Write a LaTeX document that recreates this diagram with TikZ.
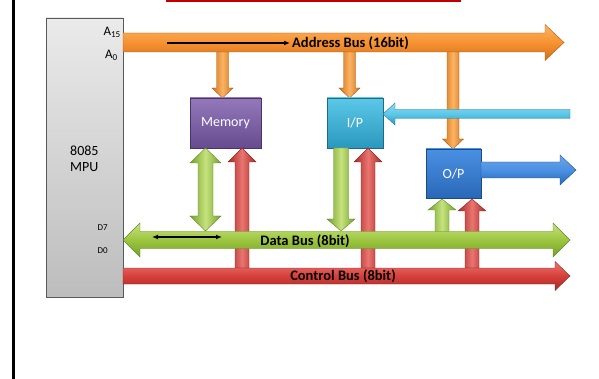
\documentclass[tikz,border=0pt]{standalone}
\usepackage{fontspec}
\setmainfont{Carlito}
\usetikzlibrary{arrows.meta}
\definecolor{orL}{HTML}{FBB463}\definecolor{orM}{HTML}{F79232}\definecolor{orD}{HTML}{D2711A}
\definecolor{grL}{HTML}{C6E27E}\definecolor{grM}{HTML}{9CC53F}\definecolor{grD}{HTML}{73A02A}
\definecolor{rdL}{HTML}{EA7470}\definecolor{rdM}{HTML}{D6403B}\definecolor{rdD}{HTML}{A82A27}
\definecolor{puT}{HTML}{9379BA}\definecolor{puB}{HTML}{674B90}
\definecolor{cyT}{HTML}{5CC8E8}\definecolor{cyB}{HTML}{2A98BE}
\definecolor{blT}{HTML}{4A90E2}\definecolor{blB}{HTML}{2A68B8}
\definecolor{frame}{HTML}{C00000}
% horizontal arrows: style, x-start, x-tip, centre y, half shaft, half head, head length
\newcommand\arrR[7]{\path[#1] ({#2},{#4-#5}) -- ({#3-#7},{#4-#5}) -- ({#3-#7},{#4-#6}) -- (#3,#4) -- ({#3-#7},{#4+#6}) -- ({#3-#7},{#4+#5}) -- (#2,{#4+#5}) -- cycle;}
\newcommand\arrL[7]{\path[#1] (#3,{#4-#5}) -- ({#2+#7},{#4-#5}) -- ({#2+#7},{#4-#6}) -- (#2,#4) -- ({#2+#7},{#4+#6}) -- ({#2+#7},{#4+#5}) -- (#3,{#4+#5}) -- cycle;}
\newcommand\arrLR[7]{\path[#1] (#2,#4) -- ({#2+#7},{#4-#6}) -- ({#2+#7},{#4-#5}) -- ({#3-#7},{#4-#5}) -- ({#3-#7},{#4-#6}) -- (#3,#4) -- ({#3-#7},{#4+#6}) -- ({#3-#7},{#4+#5}) -- ({#2+#7},{#4+#5}) -- ({#2+#7},{#4+#6}) -- cycle;}
% vertical arrows: style, x, y-start, y-tip, half shaft, half head, head length
\newcommand\arrD[7]{\path[#1] ({#2-#5},#3) -- ({#2+#5},#3) -- ({#2+#5},{#4-#7}) -- ({#2+#6},{#4-#7}) -- (#2,#4) -- ({#2-#6},{#4-#7}) -- ({#2-#5},{#4-#7}) -- cycle;}
\newcommand\arrU[7]{\path[#1] ({#2-#5},#3) -- ({#2+#5},#3) -- ({#2+#5},{#4+#7}) -- ({#2+#6},{#4+#7}) -- (#2,#4) -- ({#2-#6},{#4+#7}) -- ({#2-#5},{#4+#7}) -- cycle;}
\newcommand\arrUD[7]{\path[#1] (#2,#3) -- ({#2+#6},{#3+#7}) -- ({#2+#5},{#3+#7}) -- ({#2+#5},{#4-#7}) -- ({#2+#6},{#4-#7}) -- (#2,#4) -- ({#2-#6},{#4-#7}) -- ({#2-#5},{#4-#7}) -- ({#2-#5},{#3+#7}) -- ({#2-#6},{#3+#7}) -- cycle;}
\tikzset{
  orH/.style={top color=orL, bottom color=orD, middle color=orM, draw=orD!80!black, line width=0.4pt},
  orV/.style={left color=orD, right color=orD, middle color=orL, draw=orD!80!black, line width=0.4pt},
  grH/.style={top color=grL, bottom color=grD, middle color=grM, draw=grD!85!black, line width=0.4pt},
  grV/.style={left color=grD, right color=grD, middle color=grL, draw=grD!85!black, line width=0.4pt},
  rdH/.style={top color=rdL, bottom color=rdD, middle color=rdM, draw=rdD!85!black, line width=0.4pt},
  rdV/.style={left color=rdD, right color=rdD, middle color=rdL, draw=rdD!85!black, line width=0.4pt},
  cyH/.style={top color=cyT!70!white, bottom color=cyB, middle color=cyT, draw=cyB!80!black, line width=0.4pt},
  blH/.style={top color=blT!80!white, bottom color=blB, middle color=blT, draw=blB!80!black, line width=0.4pt},
  unit/.style={draw=#1!70!black, line width=0.5pt, inner sep=0pt, text=white, font=\fontsize{14}{16}\selectfont},
  buslabel/.style={font=\bfseries\fontsize{14.5}{16}\selectfont, inner sep=0pt},
  pinlabel/.style={font=\fontsize{9}{10}\selectfont, inner sep=0pt},
  blackarrow/.style={line width=1.3pt, -{Latex[length=6pt,width=5pt]}},
}
\begin{document}
\begin{tikzpicture}[x=1pt,y=-1pt]
\useasboundingbox (0,0) rectangle (599,379);
% frame pieces
\draw[line width=3pt] (13.5,0) -- (13.5,379);
\begin{scope}
\clip (0,0) rectangle (599,379);
\draw[frame, line width=1.8pt] (167,-10) rectangle (460,0.9);
\end{scope}
% MPU
\node[draw=black!65, line width=0.8pt, top color=black!8, bottom color=black!26, minimum width=77pt, minimum height=279pt, inner sep=0pt] (mpu) at (84.5,157.5) {};
\node[anchor=west, align=left, inner sep=0pt, font=\fontsize{14}{16.5}\selectfont] (mpuname) at (70,159) {8085\\MPU};
\node[anchor=east, inner sep=0pt, font=\fontsize{13}{15}\selectfont] (a15) at (121,32) {A\textsubscript{15}};
\node[anchor=east, inner sep=0pt, font=\fontsize{13}{15}\selectfont] (a0) at (118,55) {A\textsubscript{0}};
\node[pinlabel, anchor=east] (d7) at (108,228) {D7};
\node[pinlabel, anchor=east] (d0) at (108,251) {D0};
% address bus
\arrR{orH}{123}{564}{42.5}{9.5}{18}{19}
\draw[blackarrow] (167,43) -- (290,43);
\node[buslabel, anchor=west] (alabel) at (292,43) {Address Bus (16bit)};
\arrD{orV}{222.5}{52}{98}{6}{10.5}{10}
\arrD{orV}{349.5}{52}{98}{6}{10.5}{10}
\arrD{orV}{453}{52}{149}{6}{10.5}{10}
% units
\node[unit=puB, top color=puT, bottom color=puB, minimum width=71pt, minimum height=50pt] (mem) at (225.5,123) {Memory};
\node[unit=cyB, top color=cyT, bottom color=cyB, minimum width=56pt, minimum height=50pt] (ip) at (355,123) {I/P};
\node[unit=blB, top color=blT, bottom color=blB, minimum width=55pt, minimum height=49pt] (op) at (453.5,173.5) {O/P};
% input / output arrows
\arrL{cyH}{383}{570}{114}{4.5}{11}{12}
\arrR{blH}{481}{576}{170}{8}{15}{16}
% red control arrows (under data bus)
\arrU{rdV}{242}{268}{148}{7}{14}{14}
\arrU{rdV}{368}{268}{148}{7}{14}{14}
\arrU{rdV}{472}{268}{199}{7}{14}{12}
% green data arrows
\arrUD{grV}{205.5}{148}{231}{7.5}{15.5}{15}
\arrD{grV}{341}{148}{231}{7.5}{14}{12}
\arrU{grV}{442}{233}{199}{7}{14}{11}
% data bus
\arrLR{grH}{123}{570}{240}{8.5}{17}{17}
\draw[blackarrow, {Latex[length=6pt,width=5pt]}-{Latex[length=6pt,width=5pt]}] (152,237) -- (222,237);
\node[buslabel] (dlabel) at (305,241) {Data Bus (8bit)};
% control bus
\arrR{rdH}{123}{570}{276}{8}{14.5}{15}
\node[buslabel] (clabel) at (343,276.5) {Control Bus (8bit)};
\end{tikzpicture}
\end{document}
